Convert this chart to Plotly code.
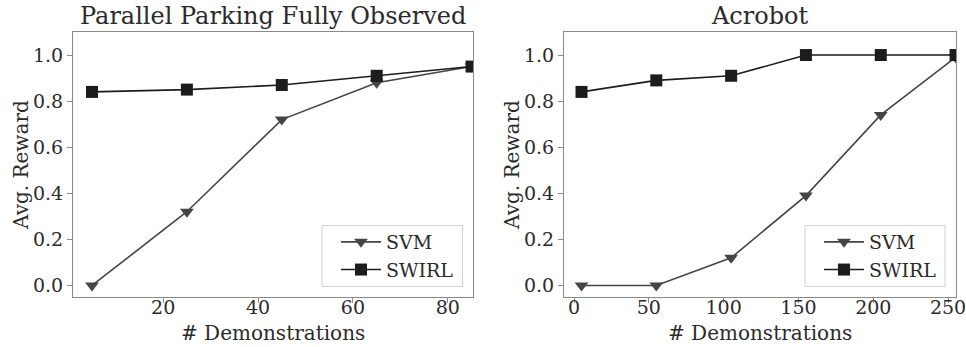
import plotly.graph_objects as go

# Data
left_x = [5, 25, 45, 65, 85]
left_svm = [0.0, 0.32, 0.72, 0.88, 0.95]
left_swirl = [0.84, 0.85, 0.87, 0.91, 0.95]

right_x = [5, 55, 105, 155, 205, 255]
right_svm = [0.0, 0.0, 0.12, 0.39, 0.74, 0.99]
right_swirl = [0.84, 0.89, 0.91, 1.0, 1.0, 1.0]

titles = ["Parallel Parking Fully Observed", "Acrobot"]
xlabel = "# Demonstrations"
ylabel = "Avg. Reward"

W, H = 966, 347
FONT = "DejaVu Serif"
SVM_C = "#454545"
SWIRL_C = "#1c1c1c"
FRAME_C = "#8a8a8a"
TXT_C = "#2b2b2b"

def px_x(p):
    return p / W

def px_y(p):
    return 1 - p / H

fig = go.Figure()

fig.add_trace(go.Scatter(x=left_x, y=left_svm, name="SVM", mode="lines+markers",
                         line=dict(color=SVM_C, width=1.6),
                         marker=dict(symbol="triangle-down", size=12, color=SVM_C),
                         xaxis="x", yaxis="y", legend="legend"))
fig.add_trace(go.Scatter(x=left_x, y=left_swirl, name="SWIRL", mode="lines+markers",
                         line=dict(color=SWIRL_C, width=1.6),
                         marker=dict(symbol="square", size=12, color=SWIRL_C),
                         xaxis="x", yaxis="y", legend="legend"))
fig.add_trace(go.Scatter(x=right_x, y=right_svm, name="SVM", mode="lines+markers",
                         line=dict(color=SVM_C, width=1.6),
                         marker=dict(symbol="triangle-down", size=12, color=SVM_C),
                         xaxis="x2", yaxis="y2", legend="legend2"))
fig.add_trace(go.Scatter(x=right_x, y=right_swirl, name="SWIRL", mode="lines+markers",
                         line=dict(color=SWIRL_C, width=1.6),
                         marker=dict(symbol="square", size=12, color=SWIRL_C),
                         xaxis="x2", yaxis="y2", legend="legend2"))

ydom = [px_y(297), px_y(32)]
axis_common = dict(showgrid=False, zeroline=False, showline=True, mirror=True,
                   linecolor=FRAME_C, linewidth=1.2, ticks="outside", ticklen=5,
                   tickcolor=FRAME_C, automargin=False, ticklabeloverflow="allow",
                   tickfont=dict(family=FONT, size=19, color=TXT_C))

legend_common = dict(xanchor="left", yanchor="top", bgcolor="rgba(0,0,0,0)",
                     borderwidth=0, itemwidth=40,
                     font=dict(family=FONT, size=19, color=TXT_C), tracegroupgap=0)

fig.update_layout(
    width=W, height=H,
    margin=dict(l=0, r=0, t=0, b=0, autoexpand=False),
    paper_bgcolor="white", plot_bgcolor="white",
    xaxis=dict(domain=[px_x(73), px_x(473)], range=[1, 85.3], anchor="y",
               tickvals=[20, 40, 60, 80], ticklabelstandoff=-12, **axis_common),
    yaxis=dict(domain=ydom, range=[-0.05, 1.1], anchor="x",
               tickvals=[0, 0.2, 0.4, 0.6, 0.8, 1.0], tickformat=".1f", **axis_common),
    xaxis2=dict(domain=[px_x(564), px_x(956)], range=[-6.7, 255.3], anchor="y2",
                tickvals=[0, 50, 100, 150, 200, 250], ticklabelstandoff=-12, **axis_common),
    yaxis2=dict(domain=ydom, range=[-0.05, 1.1], anchor="x2",
                tickvals=[0, 0.2, 0.4, 0.6, 0.8, 1.0], tickformat=".1f", **axis_common),
    legend=dict(x=px_x(336), y=px_y(223), **legend_common),
    legend2=dict(x=px_x(819), y=px_y(223), **legend_common),
    showlegend=True,
)

# legend frames (drawn under the legend entries)
for x0, x1 in [(322, 462.5), (805, 945)]:
    fig.add_shape(type="rect", xref="paper", yref="paper",
                  x0=px_x(x0), x1=px_x(x1), y0=px_y(286.5), y1=px_y(225.5),
                  line=dict(color="#d0d0d0", width=1), fillcolor="white", layer="above")

ann = []
for cx, t in [(273, titles[0]), (760, titles[1])]:
    ann.append(dict(x=px_x(cx), y=px_y(16), xref="paper", yref="paper", text=t,
                    showarrow=False, xanchor="center", yanchor="middle",
                    font=dict(family=FONT, size=24, color=TXT_C)))
for cx in [273, 760]:
    ann.append(dict(x=px_x(cx), y=px_y(333), xref="paper", yref="paper", text=xlabel,
                    showarrow=False, xanchor="center", yanchor="middle",
                    font=dict(family=FONT, size=20, color=TXT_C)))
for cx in [21, 512]:
    ann.append(dict(x=px_x(cx), y=px_y(165), xref="paper", yref="paper", text=ylabel,
                    showarrow=False, xanchor="center", yanchor="middle", textangle=-90,
                    font=dict(family=FONT, size=20, color=TXT_C)))
fig.update_layout(annotations=ann)

fig.write_html("out.html", config={"displayModeBar": False},
               post_script="document.body.style.margin='0';")
